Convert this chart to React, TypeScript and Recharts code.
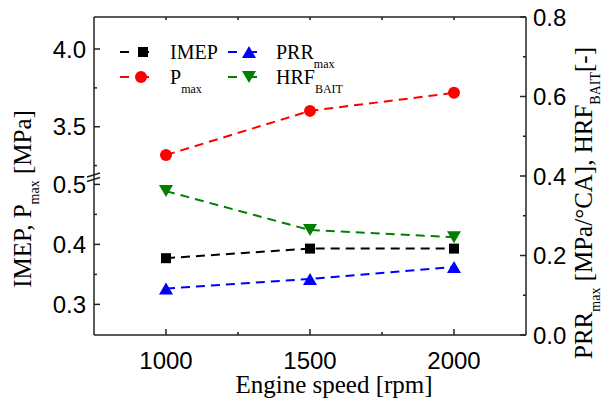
import React from 'react';
import { ComposedChart, Line, XAxis, YAxis } from 'recharts';

const speeds = [1000, 1500, 2000];
const imep = [0.377, 0.393, 0.393];
const pMax = [3.318, 3.602, 3.718];
const prrMax = [0.117, 0.141, 0.171];
const hrfBait = [0.362, 0.264, 0.246];

const xTicks = [1000, 1250, 1500, 1750, 2000];
const xMajor = [1000, 1500, 2000];
const upperTicks = [3.25, 3.5, 3.75, 4.0];
const upperMajor = [3.5, 4.0];
const breakAt = 0.5147;
const lowerTicks = [0.3, 0.35, 0.4, 0.45, 0.5, breakAt];
const lowerMajor = [0.3, 0.4, 0.5];
const rightTicks = [0, 0.1, 0.2, 0.3, 0.4, 0.5, 0.6, 0.7, 0.8];
const rightMajor = [0, 0.2, 0.4, 0.6, 0.8];

const data = speeds.map((s, i) => ({
  speed: s,
  imep: imep[i],
  pMax: pMax[i],
  prrMax: prrMax[i],
  hrfBait: hrfBait[i],
}));

const AXIS = '#222';
const SANS = '"Liberation Sans", Arial, sans-serif';
const SERIF = '"Liberation Serif", "Times New Roman", serif';
const TICK_FS = 24;
const MAJ = 6;
const MIN = 3;

const isMajor = (v: number, list: number[]) => list.some((m) => Math.abs(m - v) < 1e-6);

const leftTick = (majors: number[]) => (props: any) => {
  const { x, y, payload } = props;
  const v = payload.value;
  if (Math.abs(v - breakAt) < 1e-6) {
    return (
      <g>
        <line x1={x - 7} y1={y + 1.5} x2={x + 6} y2={y - 2.5} stroke={AXIS} strokeWidth={1.5} />
        <line x1={x - 7} y1={y + 6} x2={x + 6} y2={y + 2} stroke={AXIS} strokeWidth={1.5} />
      </g>
    );
  }
  const major = isMajor(v, majors);
  return (
    <g>
      <line x1={x} y1={y} x2={x + (major ? MAJ : MIN)} y2={y} stroke={AXIS} strokeWidth={1.5} />
      {major && (
        <text x={x - 8} y={y} dy="0.36em" textAnchor="end" fontFamily={SANS} fontSize={TICK_FS} fill="#000">
          {v.toFixed(1)}
        </text>
      )}
    </g>
  );
};

const rightTick = (props: any) => {
  const { x, y, payload } = props;
  const v = payload.value;
  const major = isMajor(v, rightMajor);
  return (
    <g>
      <line x1={x} y1={y} x2={x - (major ? MAJ : MIN)} y2={y} stroke={AXIS} strokeWidth={1.5} />
      {major && (
        <text x={x + 7} y={y} dy="0.36em" textAnchor="start" fontFamily={SANS} fontSize={TICK_FS} fill="#000">
          {v.toFixed(1)}
        </text>
      )}
    </g>
  );
};

const bottomTick = (props: any) => {
  const { x, y, payload } = props;
  const v = payload.value;
  const major = isMajor(v, xMajor);
  return (
    <g>
      <line x1={x} y1={y} x2={x} y2={y - (major ? MAJ : MIN)} stroke={AXIS} strokeWidth={1.5} />
      {major && (
        <text x={x} y={y + 25} dy="0.36em" textAnchor="middle" fontFamily={SANS} fontSize={TICK_FS} fill="#000">
          {String(v)}
        </text>
      )}
    </g>
  );
};

const topTick = (props: any) => {
  const { x, y } = props;
  return <line x1={x} y1={y} x2={x} y2={y + MIN} stroke={AXIS} strokeWidth={1.5} />;
};

const Square = (props: any) => {
  const { cx, cy, fill } = props;
  return <rect x={cx - 5} y={cy - 5} width={10} height={10} fill={fill} />;
};
const Circle = (props: any) => {
  const { cx, cy, fill } = props;
  return <circle cx={cx} cy={cy} r={6} fill={fill} />;
};
const TriUp = (props: any) => {
  const { cx, cy, fill } = props;
  return <polygon points={`${cx - 7},${cy + 6} ${cx + 7},${cy + 6} ${cx},${cy - 6}`} fill={fill} />;
};
const TriDown = (props: any) => {
  const { cx, cy, fill } = props;
  return <polygon points={`${cx - 7},${cy - 6} ${cx + 7},${cy - 6} ${cx},${cy + 6}`} fill={fill} />;
};

const DASH = '9 6';

const bottomLabel = (props: any) => {
  const vb = props.viewBox;
  return (
    <text x={vb.x + vb.width / 2 + 24} y={393} textAnchor="middle" fontFamily={SERIF} fontSize={25} fill="#000">
      Engine speed [rpm]
    </text>
  );
};

const leftLabel = (props: any) => {
  const vb = props.viewBox;
  const cy = vb.y + vb.height / 2 + 23;
  return (
    <text transform={`translate(31,${cy}) rotate(-90)`} textAnchor="middle" fontFamily={SERIF} fontSize={25} fill="#000">
      <tspan>IMEP, P</tspan>
      <tspan fontSize={14} dy={8}>max</tspan>
      <tspan dy={-8}> [MPa]</tspan>
    </text>
  );
};

const rightLabel = (props: any) => {
  const vb = props.viewBox;
  const cy = vb.y + vb.height / 2 + 27;
  return (
    <text transform={`translate(592,${cy}) rotate(-90)`} textAnchor="middle" fontFamily={SERIF} fontSize={25} fill="#000">
      <tspan>PRR</tspan>
      <tspan fontSize={14} dy={8}>max</tspan>
      <tspan dy={-8}> [MPa/°CA], HRF</tspan>
      <tspan fontSize={14} dy={8}>BAIT</tspan>
      <tspan dy={-8}>[-]</tspan>
    </text>
  );
};

const legendItems = [
  { name: 'IMEP', sub: '', color: '#000000', shape: 'square', x1: 120, x2: 153, mx: 143, tx: 170, y: 52 },
  { name: 'P', sub: 'max', color: '#FF0000', shape: 'circle', x1: 120, x2: 153, mx: 141, tx: 170, y: 77 },
  { name: 'PRR', sub: 'max', color: '#0000FF', shape: 'up', x1: 228, x2: 267, mx: 249, tx: 276, y: 52 },
  { name: 'HRF', sub: 'BAIT', color: '#008000', shape: 'down', x1: 228, x2: 267, mx: 249, tx: 276, y: 77 },
];

const LegendOverlay = () => (
  <svg width={608} height={407} style={{ position: 'absolute', left: 0, top: 0, pointerEvents: 'none' }}>
    {legendItems.map((it) => {
      const M = it.shape === 'square' ? Square : it.shape === 'circle' ? Circle : it.shape === 'up' ? TriUp : TriDown;
      return (
        <g key={it.name}>
          <line x1={it.x1} y1={it.y} x2={it.x2} y2={it.y} stroke={it.color} strokeWidth={2} strokeDasharray="9 11" />
          <M cx={it.mx} cy={it.y} fill={it.color} />
          <text x={it.tx} y={it.y} dy="0.34em" fontFamily={SERIF} fontSize={20} fill="#000">
            <tspan>{it.name}</tspan>
            {it.sub && (
              <tspan fontSize={12} dy={9}>
                {it.sub}
              </tspan>
            )}
          </text>
        </g>
      );
    })}
  </svg>
);

export default function App() {
  return (
    <div style={{ position: 'absolute', left: 0, top: 0, width: 608, height: 407, background: '#fff' }}>
      <ComposedChart width={608} height={407} data={data} margin={{ top: 16, right: 0, bottom: 0, left: 0 }}>
        <XAxis
          xAxisId="b"
          dataKey="speed"
          type="number"
          domain={[750, 2250]}
          allowDataOverflow
          ticks={xTicks}
          interval={0}
          height={72}
          tickSize={0}
          tickMargin={0}
          tickLine={false}
          tick={bottomTick}
          axisLine={{ stroke: AXIS, strokeWidth: 1.5 }}
          label={bottomLabel}
        />
        <XAxis
          xAxisId="t"
          orientation="top"
          dataKey="speed"
          type="number"
          domain={[750, 2250]}
          allowDataOverflow
          ticks={xTicks}
          interval={0}
          height={1}
          tickSize={0}
          tickMargin={0}
          tickLine={false}
          tick={topTick}
          axisLine={{ stroke: AXIS, strokeWidth: 1.5 }}
        />
        <YAxis
          yAxisId="low"
          orientation="left"
          type="number"
          domain={[0.249, 0.779]}
          allowDataOverflow
          ticks={lowerTicks}
          interval={0}
          width={94}
          tickSize={0}
          tickMargin={0}
          tickLine={false}
          axisLine={{ stroke: AXIS, strokeWidth: 1.5 }}
          tick={leftTick(lowerMajor)}
          label={leftLabel}
        />
        <YAxis
          yAxisId="up"
          orientation="left"
          mirror
          type="number"
          domain={[2.16, 4.206]}
          allowDataOverflow
          ticks={upperTicks}
          interval={0}
          width={60}
          tickSize={0}
          tickMargin={0}
          tickLine={false}
          axisLine={false}
          tick={leftTick(upperMajor)}
        />
        <YAxis
          yAxisId="r"
          orientation="right"
          type="number"
          domain={[0, 0.8]}
          allowDataOverflow
          ticks={rightTicks}
          interval={0}
          width={82}
          tickSize={0}
          tickMargin={0}
          tickLine={false}
          axisLine={{ stroke: AXIS, strokeWidth: 1.5 }}
          tick={rightTick}
          label={rightLabel}
        />
        <Line
          xAxisId="b"
          yAxisId="low"
          dataKey="imep"
          stroke="#000000"
          strokeWidth={2}
          strokeDasharray={DASH}
          dot={(p: any) => <Square key={`s${p.index}`} cx={p.cx} cy={p.cy} fill="#000000" />}
          activeDot={false}
          isAnimationActive={false}
        />
        <Line
          xAxisId="b"
          yAxisId="up"
          dataKey="pMax"
          stroke="#FF0000"
          strokeWidth={2}
          strokeDasharray={DASH}
          dot={(p: any) => <Circle key={`c${p.index}`} cx={p.cx} cy={p.cy} fill="#FF0000" />}
          activeDot={false}
          isAnimationActive={false}
        />
        <Line
          xAxisId="b"
          yAxisId="r"
          dataKey="prrMax"
          stroke="#0000FF"
          strokeWidth={2}
          strokeDasharray={DASH}
          dot={(p: any) => <TriUp key={`u${p.index}`} cx={p.cx} cy={p.cy} fill="#0000FF" />}
          activeDot={false}
          isAnimationActive={false}
        />
        <Line
          xAxisId="b"
          yAxisId="r"
          dataKey="hrfBait"
          stroke="#008000"
          strokeWidth={2}
          strokeDasharray={DASH}
          dot={(p: any) => <TriDown key={`d${p.index}`} cx={p.cx} cy={p.cy} fill="#008000" />}
          activeDot={false}
          isAnimationActive={false}
        />
      </ComposedChart>
      <LegendOverlay />
    </div>
  );
}
